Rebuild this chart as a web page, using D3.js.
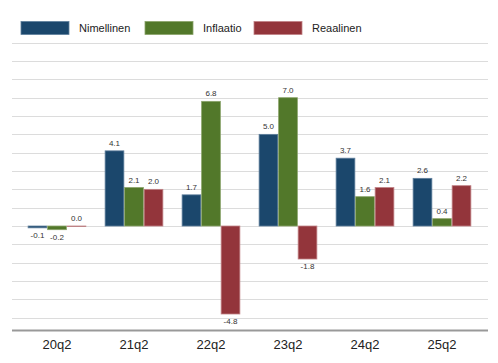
<!DOCTYPE html>
<html><head><meta charset="utf-8">
<script src="https://cdn.jsdelivr.net/npm/d3@7"></script>
<style>body{margin:0;background:#fff;}svg{display:block;font-family:Arial,"Liberation Sans",sans-serif;}</style>
</head><body><div id="chart"></div>
<script>
const categories = ["20q2","21q2","22q2","23q2","24q2","25q2"];
const seriesNames = ["Nimellinen","Inflaatio","Reaalinen"];
const nimellinen = [-0.1, 4.1, 1.7, 5.0, 3.7, 2.6];
const inflaatio = [-0.2, 2.1, 6.8, 7.0, 1.6, 0.4];
const reaalinen = [0.0, 2.0, -4.8, -1.8, 2.1, 2.2];
const colors = ["#1b476c", "#52782a", "#93353b"];
const strokes = ["#5f7f9c", "#8aa36a", "#c08286"];
const gridTicks = [-5,-4,-3,-2,-1,0,1,2,3,4,5,6,7,8,9,10];

const W = 498, H = 363;
const svg = d3.select("#chart").append("svg").attr("width", W).attr("height", H);

const y = d3.scaleLinear().domain([-5.7, 10]).range([330.5, 42.7]);
const x0 = d3.scaleBand().domain(categories).range([18.5, 480.5]).paddingInner(0.25).paddingOuter(0.125);
const x1 = d3.scaleBand().domain(seriesNames).range([0, x0.bandwidth()]).paddingInner(0.04);

// gridlines
svg.append("g").selectAll("line").data(gridTicks).join("line")
  .attr("x1", 12).attr("x2", 488)
  .attr("y1", d => Math.round(y(d)) + 0.5).attr("y2", d => Math.round(y(d)) + 0.5)
  .attr("stroke", "#dcdcdc").attr("stroke-width", 1.2);

const data = [nimellinen, inflaatio, reaalinen];
const groups = svg.append("g").selectAll("g").data(categories).join("g")
  .attr("transform", d => `translate(${x0(d)},0)`);

groups.each(function(cat, ci) {
  const g = d3.select(this);
  seriesNames.forEach((s, si) => {
    const v = data[si][ci];
    const top = y(Math.max(0, v)), bot = y(Math.min(0, v));
    g.append("rect")
      .attr("x", x1(s)).attr("width", x1.bandwidth())
      .attr("y", top).attr("height", Math.max(bot - top, 0.5))
      .attr("fill", colors[si]).attr("stroke", strokes[si]).attr("stroke-width", 0.8);
    g.append("text")
      .attr("x", x1(s) + x1.bandwidth() / 2)
      .attr("y", v >= 0 ? top - 5 : bot + 10)
      .attr("text-anchor", "middle")
      .attr("font-size", 8).attr("fill", "#333")
      .text(v.toFixed(1));
  });
});

// x axis
const xAxis = d3.axisBottom(x0).tickSize(0).tickPadding(9);
const ax = svg.append("g").attr("transform", `translate(0,${y(-5.7)})`).call(xAxis);
ax.select(".domain").attr("d", "M12,0H488").attr("stroke", "#999").attr("stroke-width", 2);
ax.selectAll("text").attr("font-size", 13).attr("fill", "#222").attr("font-family", "Arial,'Liberation Sans',sans-serif");

// legend
const legX = [21, 145, 254];
const leg = svg.append("g");
seriesNames.forEach((s, i) => {
  leg.append("rect").attr("x", legX[i]).attr("y", 21.5).attr("width", 48).attr("height", 13)
    .attr("fill", colors[i]).attr("stroke", strokes[i]).attr("stroke-width", 0.8);
  leg.append("text").attr("x", legX[i] + 58).attr("y", 32).attr("font-size", 11).attr("fill", "#222").text(s);
});
</script></body></html>
